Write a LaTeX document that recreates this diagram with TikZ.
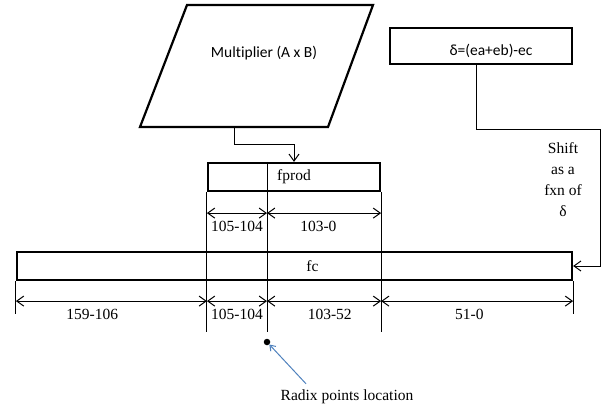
\documentclass[tikz,border=0pt]{standalone}
\usepackage{fontspec}
\setmainfont{Liberation Serif}
\newfontfamily\calibri[Ligatures=NoCommon]{Carlito}
\usepackage{tikz}
\usetikzlibrary{positioning}
\usetikzlibrary{shapes,arrows.meta}
\definecolor{radixblue}{RGB}{79,129,189}
\tikzstyle{block} = [rectangle, draw, line width=2.2pt, inner sep=0pt]
\tikzstyle{outline} = [draw, line width=2.2pt, line join=miter]
\tikzstyle{ext} = [draw, line width=1pt]
\tikzstyle{line} = [draw, line width=1pt, -{Straight Barb[length=7pt,width=10pt]}]
\tikzstyle{dim} = [draw, line width=1pt, {Straight Barb[length=7pt,width=10pt]}-{Straight Barb[length=7pt,width=10pt]}]
\tikzstyle{lbl} = [font=\fontsize{15.5}{21}\selectfont, inner sep=0pt]
\tikzstyle{sanslbl} = [font=\calibri\fontsize{15.5}{19}\selectfont, inner sep=0pt]

\begin{document}
\begin{tikzpicture}[x=1pt, y=-1pt]
    \useasboundingbox (0,0) rectangle (601,409);
    % nodes
   \draw [outline] (140,127) -- (187,5) -- (373,5) -- (328,127) -- cycle;
   \coordinate (multout) at (234,127);
   \node [sanslbl] (mult) at (264,53) {Multiplier (A x B)};
   \node [block, minimum width=182pt, minimum height=36pt,
          label={[sanslbl, xshift=10pt, yshift=-5pt]center:δ=(ea+eb)-ec}] (delta) at (481,46) {};
   \node [lbl, align=center] (shift) at (563,180) {Shift\\as a\\fxn of\\δ};
   \node [block, lbl, minimum width=172pt, minimum height=28pt] (fprod) at (294,177) {fprod};
   \node [block, minimum width=555pt, minimum height=28pt,
          label={[lbl, xshift=18pt]center:fc}] (fc) at (294.5,266) {};
   \coordinate (r) at (267,332);
   \node [circle, fill, inner sep=0pt, minimum size=6.5pt] (dot) at (267,342) {};
   \node [lbl] (radix) at (347,397) {Radix points location};

    % edges
          \draw [line] (multout) -- ++(0,17) -| (fprod.north);
          \draw [line] ([xshift=-5pt]delta.south) -- ++(0,64) -- ++(124,0) |- (fc.east);
          \draw [ext] (fprod.north -| r) -- (r);
          \draw [ext] (fprod.south west) -- (fprod.south west |- r);
          \draw [ext] (fprod.south east) -- (fprod.south east |- r);
          \draw [ext] (fc.south west) -- ++(0,33);
          \draw [ext] (fc.south east) -- ++(0,33);
          \draw [dim] ([yshift=-21pt]fprod.south west) -- node [lbl, below=8pt] {105-104} ([yshift=-21pt]fprod.south -| r);
          \draw [dim] ([yshift=-21pt]fprod.south -| r) -- node [lbl, below=8pt, pos=0.45] {103-0} ([yshift=-21pt]fprod.south east);
          \draw [dim] ([yshift=-20pt]fc.south west) -- node [lbl, below=8pt, pos=0.4] {159-106} ([yshift=-20pt]fc.south -| fprod.west);
          \draw [dim] ([yshift=-20pt]fc.south -| fprod.west) -- node [lbl, below=8pt] {105-104} ([yshift=-20pt]fc.south -| r);
          \draw [dim] ([yshift=-20pt]fc.south -| r) -- node [lbl, below=8pt, pos=0.55] {103-52} ([yshift=-20pt]fc.south -| fprod.east);
          \draw [dim] ([yshift=-20pt]fc.south -| fprod.east) -- node [lbl, below=8pt, pos=0.46] {51-0} ([yshift=-20pt]fc.south east);
          \draw [radixblue, line width=1pt, -{Straight Barb[length=5pt,width=7pt]}] ([shift={(-41pt,6pt)}]radix.north) -- (dot);

  \end{tikzpicture}
\end{document}
